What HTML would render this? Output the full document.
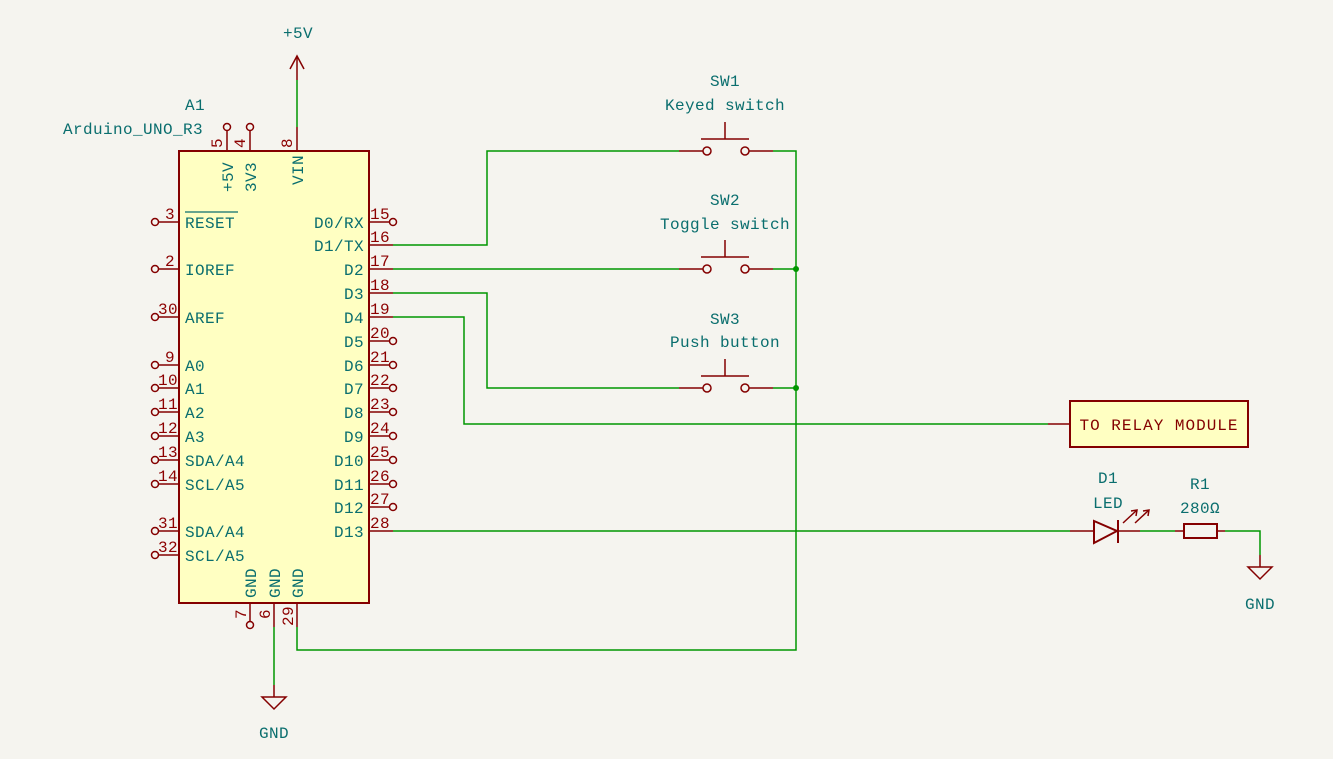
<!DOCTYPE html>
<html><head><meta charset="utf-8"><style>
html,body{margin:0;padding:0;background:#f5f4ef;}
svg{display:block}
text{font-family:"Liberation Mono","DejaVu Sans Mono",monospace;letter-spacing:0.4px}
.t{fill:#0a6e6e;font-size:16px;}
.n{fill:#8c0000;font-size:16px;}
.r{stroke:#840000;stroke-width:1.5;fill:none}
.g{stroke:#009600;stroke-width:1.5;fill:none}
</style></head><body>
<svg width="1333" height="759" viewBox="0 0 1333 759" xmlns="http://www.w3.org/2000/svg">
<rect width="1333" height="759" fill="#f5f4ef"/>
<rect x="179" y="151" width="190" height="452" fill="#ffffc2" stroke="#840000" stroke-width="2"/>
<text class="t" x="195" y="110" text-anchor="middle">A1</text>
<text class="t" x="133" y="134" text-anchor="middle">Arduino_UNO_R3</text>
<g class="r">
<line x1="227" y1="131" x2="227" y2="151"/><circle cx="227" cy="127" r="3.5"/>
<line x1="250" y1="131" x2="250" y2="151"/><circle cx="250" cy="127" r="3.5"/>
<line x1="297" y1="127" x2="297" y2="151"/>
</g>
<text class="n" transform="translate(222,148) rotate(-90)">5</text>
<text class="n" transform="translate(245,148) rotate(-90)">4</text>
<text class="n" transform="translate(292,148) rotate(-90)">8</text>
<text class="t" transform="translate(233,192) rotate(-90)">+5V</text>
<text class="t" transform="translate(256,192) rotate(-90)">3V3</text>
<text class="t" transform="translate(303,185) rotate(-90)">VIN</text>
<line class="g" x1="297" y1="127" x2="297" y2="80"/>
<g class="r"><line x1="297" y1="80" x2="297" y2="56"/><polyline points="290,69 297,56 304,69"/></g>
<text class="t" x="298" y="38" text-anchor="middle">+5V</text>
<g class="r">
<line x1="159" y1="222" x2="179" y2="222"/><circle cx="155" cy="222" r="3.5"/>
<line x1="159" y1="269" x2="179" y2="269"/><circle cx="155" cy="269" r="3.5"/>
<line x1="159" y1="317" x2="179" y2="317"/><circle cx="155" cy="317" r="3.5"/>
<line x1="159" y1="365" x2="179" y2="365"/><circle cx="155" cy="365" r="3.5"/>
<line x1="159" y1="388" x2="179" y2="388"/><circle cx="155" cy="388" r="3.5"/>
<line x1="159" y1="412" x2="179" y2="412"/><circle cx="155" cy="412" r="3.5"/>
<line x1="159" y1="436" x2="179" y2="436"/><circle cx="155" cy="436" r="3.5"/>
<line x1="159" y1="460" x2="179" y2="460"/><circle cx="155" cy="460" r="3.5"/>
<line x1="159" y1="484" x2="179" y2="484"/><circle cx="155" cy="484" r="3.5"/>
<line x1="159" y1="531" x2="179" y2="531"/><circle cx="155" cy="531" r="3.5"/>
<line x1="159" y1="555" x2="179" y2="555"/><circle cx="155" cy="555" r="3.5"/>
</g>
<g class="n" text-anchor="end">
<text x="175" y="219">3</text><text x="175" y="266">2</text><text x="178" y="314">30</text>
<text x="175" y="362">9</text><text x="178" y="385">10</text><text x="178" y="409">11</text>
<text x="178" y="433">12</text><text x="178" y="457">13</text><text x="178" y="481">14</text>
<text x="178" y="528">31</text><text x="178" y="552">32</text>
</g>
<g class="t">
<text x="185" y="228">RESET</text><line x1="185" y1="212" x2="238" y2="212" stroke="#0a6e6e" stroke-width="1.3"/>
<text x="185" y="275">IOREF</text><text x="185" y="323">AREF</text>
<text x="185" y="371">A0</text><text x="185" y="394">A1</text><text x="185" y="418">A2</text>
<text x="185" y="442">A3</text><text x="185" y="466">SDA/A4</text><text x="185" y="490">SCL/A5</text>
<text x="185" y="537">SDA/A4</text><text x="185" y="561">SCL/A5</text>
</g>
<g class="r">
<line x1="369" y1="222" x2="389" y2="222"/><circle cx="393" cy="222" r="3.5"/>
<line x1="369" y1="245" x2="393" y2="245"/>
<line x1="369" y1="269" x2="393" y2="269"/>
<line x1="369" y1="293" x2="393" y2="293"/>
<line x1="369" y1="317" x2="393" y2="317"/>
<line x1="369" y1="341" x2="389" y2="341"/><circle cx="393" cy="341" r="3.5"/>
<line x1="369" y1="365" x2="389" y2="365"/><circle cx="393" cy="365" r="3.5"/>
<line x1="369" y1="388" x2="389" y2="388"/><circle cx="393" cy="388" r="3.5"/>
<line x1="369" y1="412" x2="389" y2="412"/><circle cx="393" cy="412" r="3.5"/>
<line x1="369" y1="436" x2="389" y2="436"/><circle cx="393" cy="436" r="3.5"/>
<line x1="369" y1="460" x2="389" y2="460"/><circle cx="393" cy="460" r="3.5"/>
<line x1="369" y1="484" x2="389" y2="484"/><circle cx="393" cy="484" r="3.5"/>
<line x1="369" y1="507" x2="389" y2="507"/><circle cx="393" cy="507" r="3.5"/>
<line x1="369" y1="531" x2="393" y2="531"/>
</g>
<g class="n">
<text x="370" y="219">15</text><text x="370" y="242">16</text><text x="370" y="266">17</text>
<text x="370" y="290">18</text><text x="370" y="314">19</text><text x="370" y="338">20</text>
<text x="370" y="362">21</text><text x="370" y="385">22</text><text x="370" y="409">23</text>
<text x="370" y="433">24</text><text x="370" y="457">25</text><text x="370" y="481">26</text>
<text x="370" y="504">27</text><text x="370" y="528">28</text>
</g>
<g class="t" text-anchor="end">
<text x="364" y="228">D0/RX</text><text x="364" y="251">D1/TX</text><text x="364" y="275">D2</text>
<text x="364" y="299">D3</text><text x="364" y="323">D4</text><text x="364" y="347">D5</text>
<text x="364" y="371">D6</text><text x="364" y="394">D7</text><text x="364" y="418">D8</text>
<text x="364" y="442">D9</text><text x="364" y="466">D10</text><text x="364" y="490">D11</text>
<text x="364" y="513">D12</text><text x="364" y="537">D13</text>
</g>
<g class="r">
<line x1="250" y1="603" x2="250" y2="621"/><circle cx="250" cy="625" r="3.5"/>
<line x1="274" y1="603" x2="274" y2="627"/>
<line x1="297" y1="603" x2="297" y2="627"/>
</g>
<text class="n" transform="translate(246,619) rotate(-90)">7</text>
<text class="n" transform="translate(270,619) rotate(-90)">6</text>
<text class="n" transform="translate(293,626) rotate(-90)">29</text>
<text class="t" transform="translate(256,598) rotate(-90)">GND</text>
<text class="t" transform="translate(280,598) rotate(-90)">GND</text>
<text class="t" transform="translate(303,598) rotate(-90)">GND</text>
<line class="g" x1="274" y1="627" x2="274" y2="685"/>
<g class="r"><line x1="274" y1="685" x2="274" y2="697"/><polygon points="262,697 286,697 274,709"/></g>
<text class="t" x="274" y="738" text-anchor="middle">GND</text>
<g class="g">
<polyline points="393,245 487,245 487,151 679,151"/>
<line x1="393" y1="269" x2="679" y2="269"/>
<polyline points="393,293 487,293 487,388 679,388"/>
<polyline points="393,317 464,317 464,424 1048,424"/>
<line x1="393" y1="531" x2="1070" y2="531"/>
<polyline points="773,151 796,151 796,650 297,650 297,627"/>
<line x1="773" y1="269" x2="796" y2="269"/>
<line x1="773" y1="388" x2="796" y2="388"/>
<line x1="1140" y1="531" x2="1175" y2="531"/>
<polyline points="1225,531 1260,531 1260,555"/>
</g>
<circle cx="796" cy="269" r="3" fill="#009600"/>
<circle cx="796" cy="388" r="3" fill="#009600"/>
<g class="r">
<line x1="679" y1="151" x2="703" y2="151"/><circle cx="707" cy="151" r="4"/><circle cx="745" cy="151" r="4"/><line x1="749" y1="151" x2="773" y2="151"/>
<line x1="701" y1="139" x2="749" y2="139"/><line x1="725" y1="122" x2="725" y2="139"/>
<line x1="679" y1="269" x2="703" y2="269"/><circle cx="707" cy="269" r="4"/><circle cx="745" cy="269" r="4"/><line x1="749" y1="269" x2="773" y2="269"/>
<line x1="701" y1="257" x2="749" y2="257"/><line x1="725" y1="240" x2="725" y2="257"/>
<line x1="679" y1="388" x2="703" y2="388"/><circle cx="707" cy="388" r="4"/><circle cx="745" cy="388" r="4"/><line x1="749" y1="388" x2="773" y2="388"/>
<line x1="701" y1="376" x2="749" y2="376"/><line x1="725" y1="359" x2="725" y2="376"/>
</g>
<g class="t" text-anchor="middle">
<text x="725" y="86">SW1</text><text x="725" y="110">Keyed switch</text>
<text x="725" y="205">SW2</text><text x="725" y="229">Toggle switch</text>
<text x="725" y="324">SW3</text><text x="725" y="347">Push button</text>
</g>
<line class="r" x1="1048" y1="424" x2="1070" y2="424"/>
<rect x="1070" y="401" width="178" height="46" fill="#ffffc2" stroke="#840000" stroke-width="2"/>
<text x="1159" y="430" text-anchor="middle" style="fill:#840000;font-size:16px;letter-spacing:1px">TO RELAY MODULE</text>
<g class="r">
<line x1="1070" y1="531" x2="1094" y2="531"/>
<polygon points="1094,521 1094,543 1117,531" stroke-width="2"/>
<line x1="1118" y1="520" x2="1118" y2="543" stroke-width="2"/>
<line x1="1118" y1="531" x2="1140" y2="531"/>
<line x1="1123" y1="523" x2="1137" y2="510"/><polyline points="1131,511 1137,510 1136,516"/>
<line x1="1135" y1="523" x2="1149" y2="510"/><polyline points="1143,511 1149,510 1148,516"/>
</g>
<text class="t" x="1108" y="483" text-anchor="middle">D1</text>
<text class="t" x="1108" y="508" text-anchor="middle">LED</text>
<g class="r">
<line x1="1175" y1="531" x2="1184" y2="531"/>
<rect x="1184" y="524" width="33" height="14" stroke-width="2"/>
<line x1="1217" y1="531" x2="1225" y2="531"/>
</g>
<text class="t" x="1200" y="489" text-anchor="middle">R1</text>
<text class="t" x="1200" y="513" text-anchor="middle">280Ω</text>
<g class="r"><line x1="1260" y1="555" x2="1260" y2="567"/><polygon points="1248,567 1272,567 1260,579"/></g>
<text class="t" x="1260" y="609" text-anchor="middle">GND</text>
</svg>
</body></html>
